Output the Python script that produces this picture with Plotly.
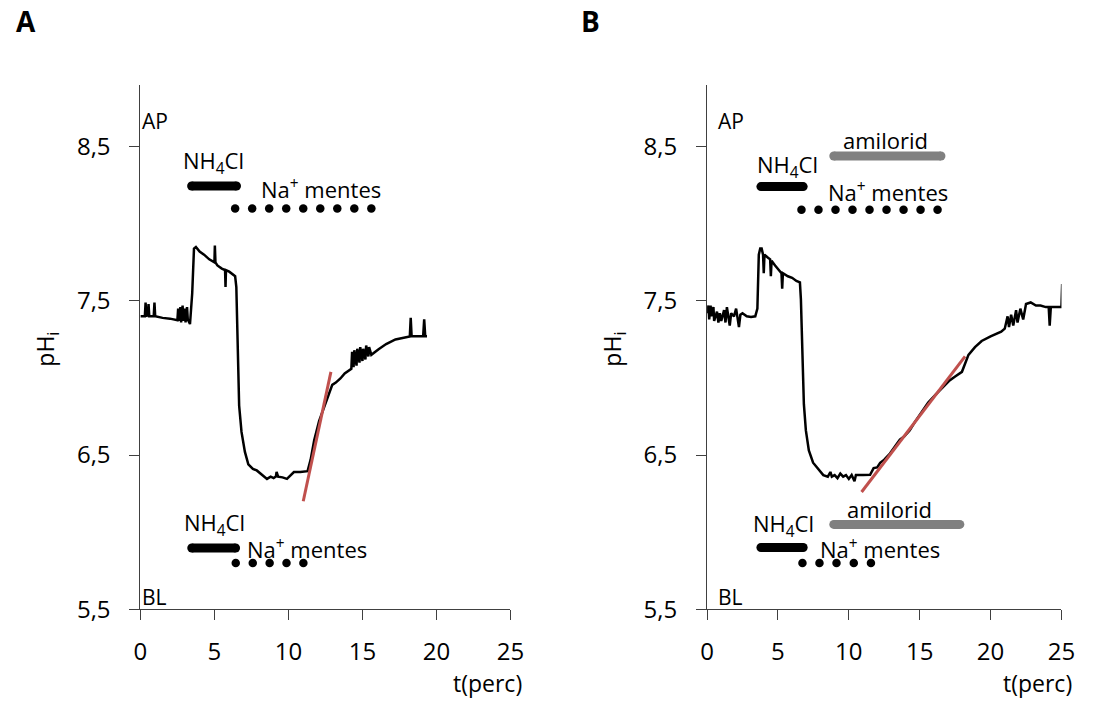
import plotly.graph_objects as go

# ---------------- data ----------------
# Panel A: intracellular pH trace (time in minutes, pHi)
t_a = [0.0, 0.30, 0.35, 0.40, 0.50, 0.55, 0.60, 0.90, 0.95, 1.00, 1.5, 2.0, 2.5,
       2.55, 2.60, 2.70, 2.75, 2.85, 2.90, 3.00, 3.05, 3.15, 3.20, 3.30, 3.35,
       3.50, 3.62, 3.75, 3.85, 4.0, 4.3, 4.65, 5.0, 5.03, 5.07, 5.2, 5.5, 5.72,
       5.75, 5.78, 6.0, 6.3, 6.4, 6.48, 6.55, 6.60, 6.67, 6.83, 7.06, 7.29, 7.6,
       7.86, 8.2, 8.55, 8.8, 9.0, 9.15, 9.2, 9.3, 9.6, 9.9, 10.2, 10.37, 10.8,
       11.29, 11.5, 11.74, 12.07, 12.3, 12.52, 12.96, 13.2, 13.51, 13.8, 14.1,
       14.25, 14.3, 14.4, 14.45, 14.6, 14.65, 14.8, 14.85, 15.0, 15.05, 15.2,
       15.25, 15.4, 15.45, 15.6, 16.09, 16.6, 17.23, 17.8, 18.2, 18.26, 18.32,
       18.7, 19.1, 19.17, 19.24, 19.36]
ph_a = [7.40, 7.40, 7.49, 7.40, 7.41, 7.48, 7.40, 7.40, 7.49, 7.40, 7.39, 7.385, 7.375,
        7.45, 7.37, 7.46, 7.36, 7.47, 7.37, 7.45, 7.36, 7.46, 7.38, 7.36, 7.35,
        7.55, 7.84, 7.85, 7.84, 7.82, 7.80, 7.77, 7.75, 7.86, 7.75, 7.73, 7.71, 7.70,
        7.59, 7.70, 7.69, 7.67, 7.66, 7.59, 7.30, 7.03, 6.82, 6.65, 6.52, 6.44, 6.41,
        6.40, 6.37, 6.345, 6.36, 6.35, 6.36, 6.39, 6.36, 6.355, 6.345, 6.37, 6.39, 6.39,
        6.395, 6.47, 6.595, 6.72, 6.78, 6.83, 6.955, 6.97, 6.997, 7.03, 7.05,
        7.06, 7.17, 7.07, 7.18, 7.08, 7.19, 7.10, 7.20, 7.11, 7.19, 7.12,
        7.21, 7.14, 7.20, 7.15, 7.186, 7.22, 7.25, 7.26, 7.27, 7.39, 7.27,
        7.27, 7.27, 7.38, 7.27, 7.27]

# Panel B: intracellular pH trace with amiloride
t_b = [0.0, 0.1, 0.15, 0.25, 0.3, 0.45, 0.5, 0.7, 0.8, 0.9, 1.0, 1.2, 1.3, 1.4,
       1.5, 1.6, 1.7, 1.9, 2.05, 2.15, 2.25, 2.35, 2.5, 2.8, 3.1, 3.4, 3.55,
       3.65, 3.75, 3.85, 3.95, 4.0, 4.05, 4.3, 4.45, 4.5, 4.55, 4.8, 5.1, 5.25,
       5.3, 5.35, 5.7, 6.0, 6.3, 6.55, 6.62, 6.7, 6.75, 6.83, 6.97, 7.18, 7.48,
       7.94, 8.2, 8.52, 8.7, 8.8, 9.0, 9.2, 9.4, 9.6, 9.8, 10.0, 10.2, 10.4,
       10.5, 11.0, 11.5, 11.75, 12.0, 12.21, 12.5, 12.9, 13.2, 13.6, 13.9, 14.29,
       14.7, 15.21, 15.6, 16.14, 16.6, 17.06, 17.5, 17.98, 18.44, 18.9, 19.37,
       20.0, 20.75, 21.0, 21.2, 21.3, 21.45, 21.6, 21.8, 21.9, 22.1, 22.3, 22.5,
       22.83, 23.2, 23.52, 23.9, 24.1, 24.17, 24.25, 24.6, 25.0, 25.05]
ph_b = [7.42, 7.47, 7.38, 7.47, 7.40, 7.46, 7.37, 7.43, 7.36, 7.42, 7.37, 7.44, 7.36, 7.46,
        7.40, 7.34, 7.42, 7.40, 7.45, 7.39, 7.33, 7.41, 7.42, 7.40, 7.395, 7.40, 7.45,
        7.80, 7.84, 7.84, 7.80, 7.68, 7.80, 7.78, 7.77, 7.66, 7.76, 7.73, 7.70, 7.68,
        7.58, 7.68, 7.66, 7.65, 7.63, 7.62, 7.51, 7.30, 7.05, 6.83, 6.66, 6.53, 6.45,
        6.395, 6.37, 6.36, 6.39, 6.36, 6.37, 6.35, 6.38, 6.36, 6.37, 6.345, 6.37, 6.33,
        6.37, 6.37, 6.372, 6.415, 6.42, 6.45, 6.47, 6.51, 6.55, 6.60, 6.62, 6.66,
        6.72, 6.79, 6.84, 6.894, 6.94, 6.98, 7.01, 7.04, 7.15, 7.20, 7.24,
        7.27, 7.30, 7.32, 7.40, 7.33, 7.41, 7.34, 7.44, 7.36, 7.45, 7.38, 7.48,
        7.49, 7.47, 7.47, 7.46, 7.46, 7.34, 7.46, 7.46, 7.46, 7.61]

# Recovery slopes (fitted lines)
slope_a_t = [11.0, 12.87]
slope_a_ph = [6.20, 7.04]
slope_b_t = [10.9, 18.2]
slope_b_ph = [6.26, 7.14]

# Solution bars: [start, end] in minutes and pH level of each bar
nh4cl_a_top = [3.46, 6.49]
nh4cl_a_top_y = 8.246
nh4cl_a_bot = [3.47, 6.43]
nh4cl_a_bot_y = 5.897
nh4cl_b_top = [3.80, 6.78]
nh4cl_b_top_y = 8.242
nh4cl_b_bot = [3.80, 6.78]
nh4cl_b_bot_y = 5.90
amil_b_top = [8.94, 16.50]
amil_b_top_y = 8.44
amil_b_bot = [8.94, 17.83]
amil_b_bot_y = 6.05

# Na+-free periods (dotted markers)
na_a_top = [6.40, 7.55, 8.70, 9.85, 11.00, 12.15, 13.30, 14.45, 15.60]
na_a_top_y = 8.10
na_a_bot = [6.44, 7.59, 8.73, 9.87, 11.01]
na_a_bot_y = 5.80
na_b_top = [6.66, 7.86, 9.06, 10.26, 11.46, 12.66, 13.86, 15.06, 16.26]
na_b_top_y = 8.092
na_b_bot = [6.73, 7.93, 9.13, 10.35, 11.56]
na_b_bot_y = 5.80

x_ticks = [0, 5, 10, 15, 20, 25]
y_ticks = [5.5, 6.5, 7.5, 8.5]
y_tick_text = ["5,5", "6,5", "7,5", "8,5"]

# ---------------- figure ----------------
W, H = 1099, 710
FONT = "Open Sans"
RED = "#C0504D"
GREY = "#808080"
AXC = "#404040"


def px(x):
    return x / W


def py(y):
    return 1 - y / H


fig = go.Figure()


def add_trace_line(t, ph, ax):
    fig.add_trace(go.Scatter(x=t, y=ph, mode="lines", xaxis=ax[0], yaxis=ax[1],
                             line=dict(color="black", width=2.5), hoverinfo="skip"))


def add_bar(span, level, color, ax):
    fig.add_trace(go.Scatter(x=span, y=[level, level], mode="lines+markers",
                             xaxis=ax[0], yaxis=ax[1],
                             line=dict(color=color, width=9),
                             marker=dict(color=color, size=9),
                             hoverinfo="skip"))


def add_dots(ts, level, ax):
    fig.add_trace(go.Scatter(x=ts, y=[level] * len(ts), mode="markers",
                             xaxis=ax[0], yaxis=ax[1],
                             marker=dict(color="black", size=8.5),
                             hoverinfo="skip"))


A = ("x", "y")
B = ("x2", "y2")

add_trace_line(t_a, ph_a, A)
fig.add_trace(go.Scatter(x=slope_a_t, y=slope_a_ph, mode="lines", xaxis="x", yaxis="y",
                         line=dict(color=RED, width=3), hoverinfo="skip"))
add_bar(nh4cl_a_top, nh4cl_a_top_y, "black", A)
add_bar(nh4cl_a_bot, nh4cl_a_bot_y, "black", A)
add_dots(na_a_top, na_a_top_y, A)
add_dots(na_a_bot, na_a_bot_y, A)

add_trace_line(t_b, ph_b, B)
fig.add_trace(go.Scatter(x=slope_b_t, y=slope_b_ph, mode="lines", xaxis="x2", yaxis="y2",
                         line=dict(color=RED, width=3), hoverinfo="skip"))
add_bar(amil_b_top, amil_b_top_y, GREY, B)
add_bar(amil_b_bot, amil_b_bot_y, GREY, B)
add_bar(nh4cl_b_top, nh4cl_b_top_y, "black", B)
add_bar(nh4cl_b_bot, nh4cl_b_bot_y, "black", B)
add_dots(na_b_top, na_b_top_y, B)
add_dots(na_b_bot, na_b_bot_y, B)

ydom = [py(622.3), py(87.0)]
common_x = dict(range=[0, 25], tickvals=x_ticks, ticks="outside", ticklen=10,
                tickwidth=1, tickcolor=AXC, showline=True, linecolor=AXC, linewidth=1,
                showgrid=False, zeroline=False, ticklabelstandoff=11,
                tickfont=dict(family=FONT, size=24, color="black"))
common_y = dict(range=[5.5, 8.9], tickvals=y_ticks, ticktext=y_tick_text,
                ticks="outside", ticklen=10, tickwidth=1, tickcolor=AXC,
                showline=True, linecolor=AXC, linewidth=1, showgrid=False,
                zeroline=False, ticklabelstandoff=14, domain=ydom,
                tickfont=dict(family=FONT, size=24, color="black"))

fig.update_layout(
    width=W, height=H, margin=dict(l=0, r=0, t=0, b=0),
    paper_bgcolor="white", plot_bgcolor="white", showlegend=False,
    font=dict(family=FONT, color="black"),
    xaxis=dict(domain=[px(136), px(513.3)], anchor="y", **common_x),
    yaxis=dict(anchor="x", **common_y),
    xaxis2=dict(domain=[px(713.7), px(1075)], anchor="y2", **common_x),
    yaxis2=dict(anchor="x2", **common_y),
)

ann = []


def label(text, x, y, ax, size=22, xanchor="left", yanchor="middle"):
    ann.append(dict(text=text, x=x, y=y, xref=ax[0], yref=ax[1], showarrow=False,
                    xanchor=xanchor, yanchor=yanchor,
                    font=dict(family=FONT, size=size, color="black")))


def paper_label(text, x, y, size=22, xanchor="center", yanchor="middle", angle=0, bold=False):
    ann.append(dict(text=f"<b>{text}</b>" if bold else text, x=px(x), y=py(y),
                    xref="paper", yref="paper", showarrow=False, textangle=angle,
                    xanchor=xanchor, yanchor=yanchor,
                    font=dict(family=FONT, size=size, color="black")))


# Panel A labels
label("AP", 0.0, 8.67, A, size=21)
label("BL", 0.0, 5.578, A, size=21)
label("NH<sub>4</sub>Cl", 2.73, 8.40, A)
label("Na<sup>+</sup> mentes", 7.99, 8.23, A)
label("NH<sub>4</sub>Cl", 2.83, 6.055, A)
label("Na<sup>+</sup> mentes", 7.06, 5.893, A)

# Panel B labels
label("AP", 0.62, 8.67, B, size=21)
label("BL", 0.66, 5.578, B, size=21)
label("amilorid", 9.43, 8.547, B)
label("NH<sub>4</sub>Cl", 3.39, 8.378, B)
label("Na<sup>+</sup> mentes", 8.39, 8.207, B)
label("amilorid", 9.71, 6.15, B)
label("NH<sub>4</sub>Cl", 3.09, 6.048, B)
label("Na<sup>+</sup> mentes", 7.82, 5.893, B)

# Panel letters, axis titles
paper_label("A", 19, 21, size=28, bold=True)
paper_label("B", 595, 21, size=28, bold=True)
paper_label("pH<sub>i</sub>", 40, 357, size=23, angle=-90)
paper_label("pH<sub>i</sub>", 618, 357, size=23, angle=-90)
paper_label("t(perc)", 527, 698, size=23, xanchor="right")
paper_label("t(perc)", 1088, 698, size=23, xanchor="right")

fig.update_layout(annotations=ann)
fig.write_html("out.html")
